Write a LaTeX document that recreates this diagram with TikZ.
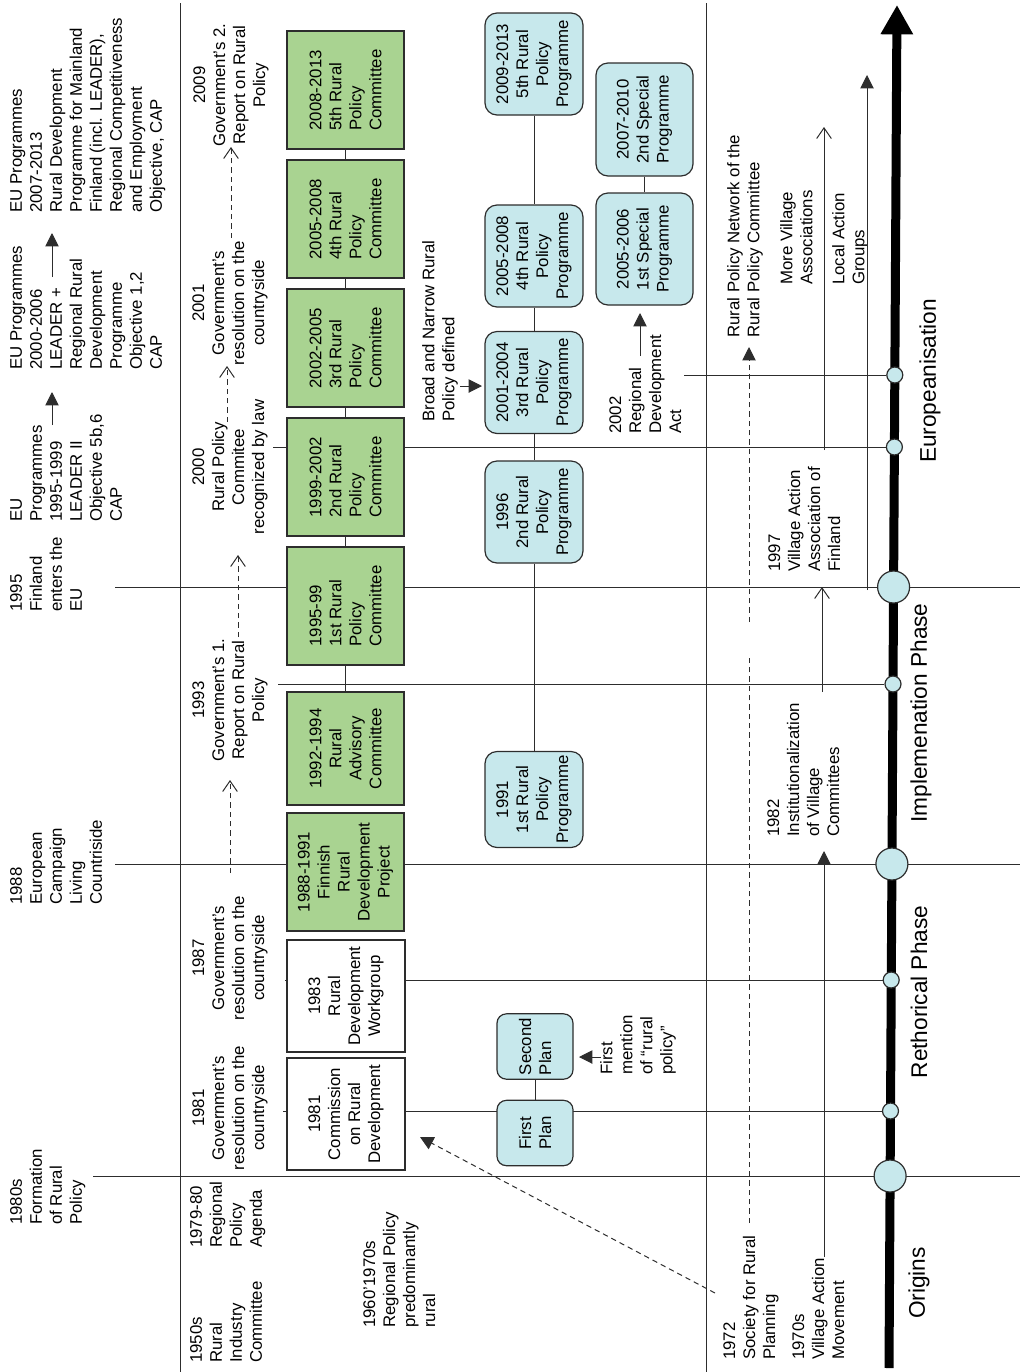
\documentclass[tikz,border=0pt]{standalone}
\usepackage{fontspec}
\setmainfont{Liberation Sans}
\usetikzlibrary{arrows.meta,backgrounds}

\definecolor{greenfill}{RGB}{169,211,145}
\definecolor{bluefill}{RGB}{199,232,236}
\definecolor{edgegray}{RGB}{45,45,45}

\tikzstyle{every node}=[font=\fontsize{12.6}{15}\selectfont, inner sep=1pt]
\tikzstyle{note}=[rotate=90, align=left, anchor=north west, inner sep=0pt]
\tikzstyle{cnote}=[rotate=90, align=center, inner sep=0pt]
\tikzstyle{phase}=[rotate=90, font=\fontsize{17}{20}\selectfont]
\tikzstyle{box}=[rotate=90, draw=edgegray, line width=0.9pt]
\tikzstyle{greenbox}=[box, fill=greenfill, align=left, minimum width=88.5pt, minimum height=87.75pt]
\tikzstyle{whitebox}=[box, fill=white, align=center, minimum width=84pt, minimum height=88.5pt]
\tikzstyle{progbox}=[box, fill=bluefill, rounded corners=9pt, align=center, minimum width=76.5pt, minimum height=73.5pt]
\tikzstyle{planbox}=[box, fill=bluefill, rounded corners=7pt, align=left, minimum width=49pt, minimum height=57pt]
\tikzstyle{bigdot}=[circle, draw=edgegray, fill=bluefill, line width=0.9pt, minimum size=24pt, inner sep=0pt]
\tikzstyle{smalldot}=[bigdot, minimum size=12pt]
\tikzstyle{link}=[draw=edgegray, line width=0.75pt]
\tikzstyle{tri}=[link, -{Triangle[length=10pt,width=10pt]}]
\tikzstyle{barb}=[link, -{Straight Barb[length=8pt,width=11pt]}]
\tikzstyle{dashes}=[dash pattern=on 4pt off 3pt]

\begin{document}
\begin{tikzpicture}[x=0.75pt, y=-0.75pt]
  \useasboundingbox (0,0) rectangle (1020,1372);

  % headings on the left
  \node[note] (eu07) at (10,213) {EU Programmes\\2007-2013\\Rural Development\\Programme for Mainland\\Finland (incl. LEADER),\\Regional Competitiveness\\and Employment\\Objective, CAP};
  \node[note] (eu00) at (10,370) {EU Programmes\\2000-2006\\LEADER +\\Regional Rural\\Development\\Programme\\Objective 1,2\\CAP};
  \node[note] (eu95) at (10,522) {EU\\Programmes\\1995-1999\\LEADER II\\Objective 5b,6\\CAP};
  \node[note] (fin95) at (10,612) {1995\\Finland\\enters the\\EU};
  \node[note] (camp88) at (10,905) {1988\\European\\Campaign\\Living\\Countriside};
  \node[note] (form80) at (10,1225) {1980s\\Formation\\of Rural\\Policy};
  \node[note] (ind50) at (190,1363) {1950s\\Rural\\Industry\\Committee};
  \node[note] (agenda79) at (190,1248) {1979-80\\Regional\\Policy\\Agenda};
  \node[note] (reg60) at (363,1328) {1960’1970s\\Regional Policy\\predominantly\\rural};

  % government decisions
  \node[cnote] (gov09) at (231,85) {2009\\Government’s 2.\\Report on Rural\\Policy};
  \node[cnote] (gov01) at (230,303) {2001\\Government’s\\resolution on the\\countryside};
  \node[cnote] (rpc00) at (230,467) {2000\\Rural Policy\\Commitee\\recognized by law};
  \node[cnote] (gov93) at (230,700) {1993\\Government’s 1.\\Report on Rural\\Policy};
  \node[cnote] (gov87) at (230,958) {1987\\Government’s\\resolution on the\\countryside};
  \node[cnote] (gov81) at (230,1108) {1981\\Government’s\\resolution on the\\countryside};

  % committees
  \node[greenbox] (g0813) at (345.5,90) {2008-2013\\5th Rural\\Policy\\Committee};
  \node[greenbox] (g0508) at (345.5,219) {2005-2008\\4th Rural\\Policy\\Committee};
  \node[greenbox] (g0205) at (345.5,348) {2002-2005\\3rd Rural\\Policy\\Committee};
  \node[greenbox] (g9902) at (345.5,477) {1999-2002\\2nd Rural\\Policy\\Committee};
  \node[greenbox] (g9599) at (345.5,606) {1995-99\\1st Rural\\Policy\\Committee};
  \node[greenbox, align=center, minimum width=84.75pt] (g9294) at (345.5,748.5) {1992-1994\\Rural\\Advisory\\Committee};
  \node[greenbox, align=center] (g8891) at (345.5,872) {1988-1991\\Finnish\\Rural\\Development\\Project};
  \node[whitebox] (w83) at (346,996) {1983\\Rural\\Development\\Workgroup};
  \node[whitebox] (w81) at (346,1114) {1981\\Commission\\on Rural\\Development};
  \draw[link] (g0813) -- (g0508) -- (g0205) -- (g9902) -- (g9599) -- (g9294);

  % programmes
  \node[progbox] (p0913) at (534,64) {2009-2013\\5th Rural\\Policy\\Programme};
  \node[progbox] (p0508) at (534,256) {2005-2008\\4th Rural\\Policy\\Programme};
  \node[progbox] (p0104) at (534,382.5) {2001-2004\\3rd Rural\\Policy\\Programme};
  \node[progbox] (p96) at (534,512) {1996\\2nd Rural\\Policy\\Programme};
  \node[progbox, minimum width=72pt] (p91) at (534,799.5) {1991\\1st Rural\\Policy\\Programme};
  \draw[link] (p0913) -- (p0508) -- (p0104) -- (p96) -- (p91);

  \node[progbox, minimum width=84.75pt, minimum height=72.75pt] (s0710) at (644.5,119.5) {2007-2010\\2nd Special\\Programme};
  \node[progbox, minimum width=84pt, minimum height=72.75pt] (s0506) at (644.5,249) {2005-2006\\1st Special\\Programme};
  \draw[link] (s0710) -- (s0506);

  \node[planbox] (plan2) at (535,1046.5) {Second\\Plan};
  \node[planbox] (plan1) at (535,1133) {First\\Plan};
  \draw[link] (plan2) -- (plan1);

  % notes in the middle
  \node[note] (bnr) at (422,422) {Broad and Narrow Rural\\Policy defined};
  \node[note] (first) at (600,1075) {First\\mention\\of “rural\\policy”};
  \node[note] (rd02) at (609,434) {2002\\Regional\\Development\\Act};
  \node[note] (net) at (727,338) {Rural Policy Network of the\\Rural Policy Committee};
  \node[note] (morev) at (780,285) {More Village\\Associations};
  \node[note] (lag) at (832,285) {Local Action\\Groups};
  \node[note] (vaaf) at (768,572) {1997\\Village Action\\Association of\\Finland};
  \node[note] (ivc) at (767,837) {1982\\Institutionalization\\of Village\\Committees};
  \node[note] (srp) at (723,1360) {1972\\Society for Rural\\Planning};
  \node[note] (vam) at (792,1360) {1970s\\Village Action\\Movement};

  % phases
  \node[phase] (ph4) at (930,381) {Europeanisation};
  \node[phase] (ph3) at (921,713) {Implemenation Phase};
  \node[phase] (ph2) at (919,992) {Rethorical Phase};
  \node[phase] (ph1) at (919,1283) {Origins};

  % dots on the time axis
  \coordinate (axis0) at (889,1368);
  \coordinate (axis1) at (897,5);
  \node[smalldot] (d02) at (894.8,375) {};
  \node[smalldot] (d00) at (894.4,447) {};
  \node[bigdot] (d95) at (893.6,587) {};
  \node[smalldot] (d93) at (893,684) {};
  \node[bigdot] (d88) at (891.9,864) {};
  \node[smalldot] (d87) at (891.2,980) {};
  \node[smalldot] (d81) at (890.5,1111) {};
  \node[bigdot] (d80) at (890.1,1176) {};

  % arrows next to the texts
  \coordinate (a95s) at (52,425); \coordinate (a95e) at (52,392);
  \coordinate (a00s) at (52,277); \coordinate (a00e) at (52,233);
  \coordinate (a02s) at (640,356); \coordinate (a02e) at (640,313);
  \coordinate (bns) at (460,386); \coordinate (bne) at (482,386);
  \coordinate (fms) at (601,1057); \coordinate (fme) at (579,1057);
  \draw[tri] (a95s) -- (a95e);
  \draw[tri] (a00s) -- (a00e);
  \draw[tri] (a02s) -- (a02e);
  \draw[tri] (bns) -- (bne);
  \draw[tri] (fms) -- (fme);

  \coordinate (g88s) at (230,873); \coordinate (g88e) at (230,780);
  \coordinate (g93s) at (238,637); \coordinate (g93e) at (238,555);
  \coordinate (g00s) at (227,422); \coordinate (g00e) at (227,366);
  \coordinate (g01s) at (231,238); \coordinate (g01e) at (231,147);
  \draw[barb, dashes] (g88s) -- (g88e);
  \draw[barb, dashes] (g93s) -- (g93e);
  \draw[barb, dashes] (g00s) -- (g00e);
  \draw[barb, dashes] (g01s) -- (g01e);

  \coordinate (soc72) at (715,1293); \coordinate (com81) at (420,1137);
  \draw[tri, dashes] (soc72) -- (com81);
  \coordinate (net1) at (749,1223); \coordinate (net2) at (749,655);
  \coordinate (net3) at (749,622); \coordinate (net4) at (749,347);
  \draw[link, dashes] (net1) -- (net2);
  \draw[tri, dashes] (net3) -- (net4);

  \coordinate (vam1) at (824,1257); \coordinate (vam2) at (824,851);
  \coordinate (inst1) at (822,692); \coordinate (inst2) at (822,587);
  \coordinate (vil1) at (824,450); \coordinate (vil2) at (824,127);
  \coordinate (lag1) at (867,590); \coordinate (lag2) at (867,75);
  \draw[tri] (vam1) -- (vam2);
  \draw[barb] (inst1) -- (inst2);
  \draw[barb] (vil1) -- (vil2);
  \draw[tri] (lag1) -- (lag2);

  \begin{pgfonlayer}{background}
    % frame and era lines
    \coordinate (fa1) at (180,3); \coordinate (fa2) at (180,1372);
    \coordinate (fb1) at (706,3); \coordinate (fb2) at (706,1372);
    \coordinate (era95) at (115,587); \coordinate (era95r) at (1020,587);
    \coordinate (era88) at (115,864); \coordinate (era88r) at (1020,864);
    \coordinate (era80) at (93,1176); \coordinate (era80r) at (1020,1176);
    \draw[link] (fa1) -- (fa2);
    \draw[link] (fb1) -- (fb2);
    \draw[link] (era95) -- (era95r);
    \draw[link] (era88) -- (era88r);
    \draw[link] (era80) -- (era80r);
    % events to the time axis
    \coordinate (ev02) at (684,375);
    \coordinate (ev00) at (273,447);
    \coordinate (ev93) at (278,684);
    \coordinate (ev87) at (285,980);
    \coordinate (ev81) at (283,1111);
    \draw[link] (ev02) -- (d02);
    \draw[link] (ev00) -- (d00);
    \draw[link] (ev93) -- (d93);
    \draw[link] (ev87) -- (d87);
    \draw[link] (ev81) -- (d81);
    \draw[line width=6.75pt, -{Triangle[length=22pt,width=23pt]}] (axis0) -- (axis1);
  \end{pgfonlayer}
\end{tikzpicture}
\end{document}
